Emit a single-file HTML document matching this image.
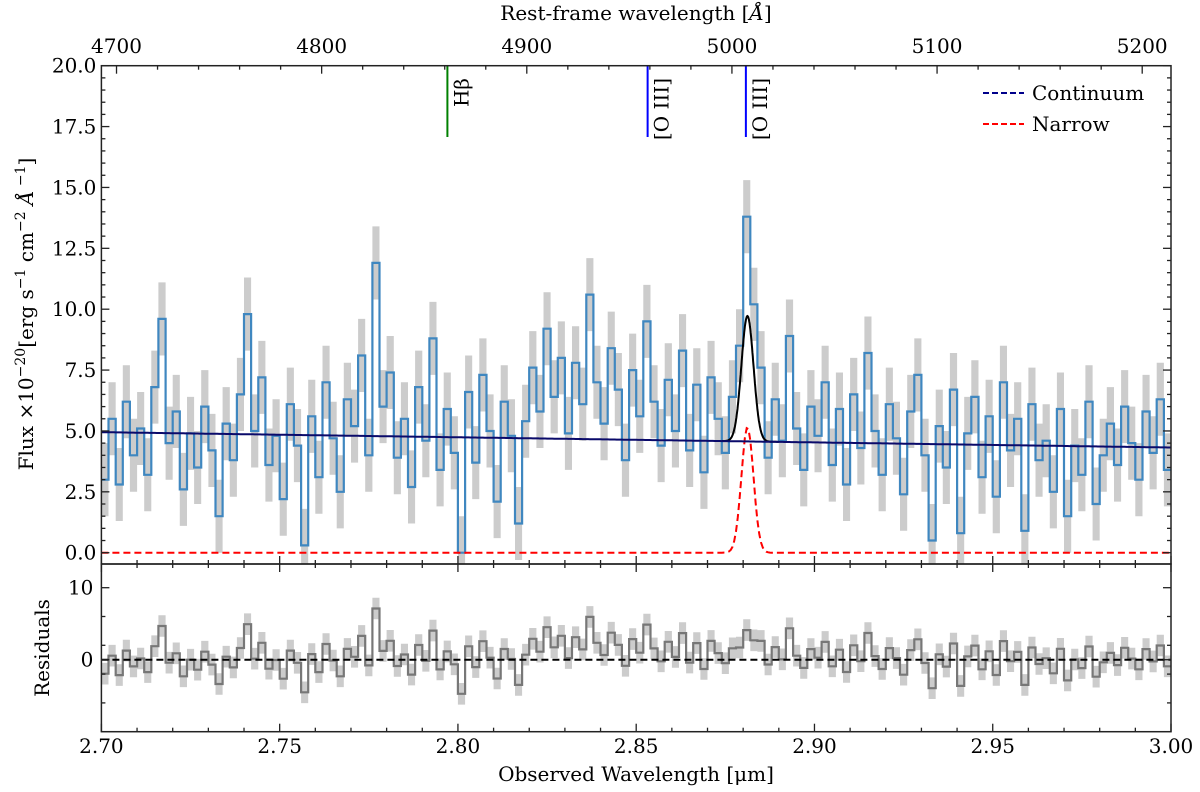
<!DOCTYPE html>
<html><head><meta charset="utf-8"><style>
html,body{margin:0;padding:0;background:#fff;}
svg{display:block;font-family:"DejaVu Serif","Liberation Serif",serif;}
</style></head><body>
<svg id="chart" width="1200" height="792" viewBox="0 0 1200 792" xmlns="http://www.w3.org/2000/svg">
<defs>
<clipPath id="mainClip"><rect x="101.4" y="65.7" width="1069.6" height="498.3"/></clipPath>
<clipPath id="resClip"><rect x="101.4" y="564" width="1069.6" height="167.7"/></clipPath>
</defs>
<g id="mainBand" clip-path="url(#mainClip)"></g>
<g id="mainSpec" clip-path="url(#mainClip)"></g>
<g id="mainModel" clip-path="url(#mainClip)"></g>
<g id="resG" clip-path="url(#resClip)"></g>
<g id="axes"></g>
<g id="legend">
  <line x1="983" y1="93" x2="1024" y2="93" stroke="#00008b" stroke-width="2" stroke-dasharray="6,3"/>
  <text x="1032" y="100" font-size="20">Continuum</text>
  <line x1="983" y1="124" x2="1024" y2="124" stroke="#ff0000" stroke-width="2" stroke-dasharray="6,3"/>
  <text x="1032" y="131" font-size="20">Narrow</text>
</g>
<text x="636" y="20" font-size="20" text-anchor="middle">Rest-frame wavelength [<tspan font-style="italic">Å</tspan>]</text>
<text x="636" y="781" font-size="20" text-anchor="middle">Observed Wavelength [μm]</text>
<text transform="translate(33,314) rotate(-90)" font-size="20" text-anchor="middle">Flux ×10<tspan font-size="14" dy="-8">−20</tspan><tspan dy="8">[erg s</tspan><tspan font-size="14" dy="-8">−1</tspan><tspan dy="8"> cm</tspan><tspan font-size="14" dy="-8">−2</tspan><tspan dy="8"> </tspan><tspan font-style="italic">Å</tspan><tspan font-size="14" dy="-8"> −1</tspan><tspan dy="8">]</tspan></text>
<text transform="translate(49,648) rotate(-90)" font-size="20" text-anchor="middle">Residuals</text>
</svg>
<script>
const wlStart = 2.700;
const wlStep = 0.002;
const flux = [
3.0,5.5,2.8,6.2,4.0,5.1,3.2,6.8,9.6,4.5,5.8,2.6,4.9,3.5,6.0,4.2,1.5,5.3,3.8,6.5,
9.8,5.0,7.2,3.6,4.8,2.2,6.1,4.4,0.3,5.6,3.1,7.0,4.7,2.5,6.3,5.2,8.1,4.0,11.9,6.0,
7.4,3.9,5.5,2.7,6.8,4.6,8.8,3.4,5.9,4.1,0.0,6.6,3.7,7.3,5.0,2.1,6.2,4.8,1.2,5.4,
7.6,5.8,9.2,6.4,8.0,4.9,7.8,6.1,10.6,7.0,5.3,8.4,6.7,3.8,7.5,5.6,9.5,6.2,4.4,7.1,
5.0,8.3,4.2,6.9,3.3,7.2,5.5,4.1,6.4,8.5,13.8,10.2,7.6,3.9,6.3,4.6,8.9,5.1,3.4,6.0,
4.8,7.0,3.6,5.9,2.8,6.5,4.3,8.2,5.0,3.2,6.1,4.7,2.4,5.8,7.3,4.0,0.5,5.2,3.5,6.7,
0.8,4.9,6.4,3.1,5.6,2.3,7.0,4.2,5.5,0.9,6.1,3.8,4.6,2.5,5.9,1.5,4.4,3.2,6.2,2.0,
4.0,5.3,3.6,6.0,4.5,3.0,5.8,4.1,6.3,3.4];
const fluxSigma = 1.5;
const contEnds = [4.95, 4.32];      // continuum at 2.70 and 3.00 µm
const narrowParams = [5.15, 2.8812, 0.0017]; // amplitude, centre, sigma
const xTicks = ["2.70","2.75","2.80","2.85","2.90","2.95","3.00"];
const yTicks = ["0.0","2.5","5.0","7.5","10.0","12.5","15.0","17.5","20.0"];
const resTicks = ["0","10"];
const topTicks = ["4700","4800","4900","5000","5100","5200"];
const lineNames = ["Hβ","[O III]","[O III]"];
const lineRest = [4861.3, 4958.9, 5006.8];
const lineColors = ["green","blue","blue"];
const zp1 = 5.7537; // 1+z

const NS="http://www.w3.org/2000/svg";
const L=101.4,R=1171,T=65.7,MB=564,RB=731.7;
const X=v=>L+(v-2.70)/0.30*(R-L);
const Y=f=>552.7-f*24.35;
const YR=r=>659.7-r*7.2;
const XR=a=>X(a*zp1/1e4);
function mk(tag,attrs,parent){const e=document.createElementNS(NS,tag);for(const k in attrs)e.setAttribute(k,attrs[k]);parent.appendChild(e);return e;}
const cont=w=>contEnds[0]+(contEnds[1]-contEnds[0])*(w-2.70)/0.30;
const narrow=w=>narrowParams[0]*Math.exp(-0.5*Math.pow((w-narrowParams[1])/narrowParams[2],2));
const model=w=>cont(w)+narrow(w);

function stepPath(vals,yf){let d="";vals.forEach((v,i)=>{const x0=X(wlStart+i*wlStep),x1=X(wlStart+(i+1)*wlStep);d+=(i?"L":"M")+x0.toFixed(1)+","+yf(v).toFixed(1)+"L"+x1.toFixed(1)+","+yf(v).toFixed(1);});return d;}
function bandPath(vals,yf,s){let up="",lo=[];vals.forEach((v,i)=>{const x0=X(wlStart+i*wlStep),x1=X(wlStart+(i+1)*wlStep);up+=(i?"L":"M")+x0.toFixed(1)+","+yf(v+s).toFixed(1)+"L"+x1.toFixed(1)+","+yf(v+s).toFixed(1);lo.unshift("L"+x1.toFixed(1)+","+yf(v-s).toFixed(1)+"L"+x0.toFixed(1)+","+yf(v-s).toFixed(1));});return up+lo.join("")+"Z";}

const gB=document.getElementById("mainBand"),gS=document.getElementById("mainSpec"),gM=document.getElementById("mainModel"),gR=document.getElementById("resG"),gA=document.getElementById("axes");
let p=mk("path",{d:bandPath(flux,Y,fluxSigma),fill:"#cccccc"},gB);


p=mk("path",{d:stepPath(flux,Y),fill:"none",stroke:"#3f87c0","stroke-width":2.2},gS);



let dC="",dN="",dM="";
for(let k=0;k<=600;k++){const w=2.70+k*0.0005;const x=X(w).toFixed(1);dC+=(k?"L":"M")+x+","+Y(cont(w)).toFixed(1);dN+=(k?"L":"M")+x+","+Y(narrow(w)).toFixed(1);}
for(let k=0;k<=160;k++){const w=2.874+k*0.0001;dM+=(k?"L":"M")+X(w).toFixed(1)+","+Y(model(w)).toFixed(1);}
p=mk("path",{d:dN,fill:"none",stroke:"#ff0000","stroke-width":2,"stroke-dasharray":"7,4"},gM);


p=mk("path",{d:dM,fill:"none",stroke:"#000","stroke-width":2},gM);


p=mk("path",{d:dC,fill:"none",stroke:"#0a0a6a","stroke-width":2},gM);



const resid=flux.map((v,i)=>v-model(wlStart+(i+0.5)*wlStep));
p=mk("path",{d:bandPath(resid,YR,fluxSigma),fill:"#cccccc"},gR);


p=mk("path",{d:stepPath(resid,YR),fill:"none",stroke:"#777","stroke-width":2.2},gR);


p=mk("line",{x1:L,x2:R,y1:YR(0),y2:YR(0),stroke:"#000","stroke-width":2,"stroke-dasharray":"7,4"},gR);



lineRest.forEach((r,i)=>{const x=XR(r);
 let l=mk("line",{x1:x,x2:x,y1:T,y2:137,stroke:lineColors[i],"stroke-width":2},gA);
 
 
 let t=mk("text",{transform:`translate(${(x+21).toFixed(1)},78) rotate(-90)`,"font-size":20,"text-anchor":"end"},gA);
 t.textContent=lineNames[i];
 
 
});

[[T,MB],[MB,RB]].forEach((b,i)=>{let r=mk("rect",{x:L,y:b[0],width:R-L,height:b[1]-b[0],fill:"none",stroke:"#222","stroke-width":1.5},gA);
 
 });
function tick(x1,y1,x2,y2){mk("line",{x1,y1,x2,y2,stroke:"#222","stroke-width":1.3},gA);}
for(let k=0;k<=30;k++){const x=X(2.70+k*0.01),maj=k%5==0,len=maj?8:4;
 tick(x,MB,x,MB-len);tick(x,MB,x,MB+len);tick(x,RB,x,RB-len);}
xTicks.forEach(s=>{let t=mk("text",{x:X(parseFloat(s)),y:753,"font-size":20,"text-anchor":"middle"},gA);t.textContent=s;
 
 });
for(let a=4700;a<=5200;a+=20){const x=XR(a),maj=a%100==0;tick(x,T,x,T+(maj?8:4));}
topTicks.forEach(s=>{let t=mk("text",{x:XR(parseFloat(s)),y:53,"font-size":20,"text-anchor":"middle"},gA);t.textContent=s;
 
 });
for(let k=0;k<=40;k++){const f=k*0.5,y=Y(f),maj=k%5==0,len=maj?8:4;tick(L,y,L+len,y);tick(R,y,R-len,y);}
yTicks.forEach(s=>{let t=mk("text",{x:L-5,y:Y(parseFloat(s))+7,"font-size":20,"text-anchor":"end"},gA);t.textContent=s;
 
 });
[-6,-2,2,6].forEach(v=>{tick(L,YR(v),L+4,YR(v));tick(R,YR(v),R-4,YR(v));});
resTicks.forEach(s=>{const y=YR(parseFloat(s));tick(L,y,L+8,y);tick(R,y,R-8,y);
 let t=mk("text",{x:L-8,y:y+7,"font-size":20,"text-anchor":"end"},gA);t.textContent=s;
 
 });
</script>
</body></html>
